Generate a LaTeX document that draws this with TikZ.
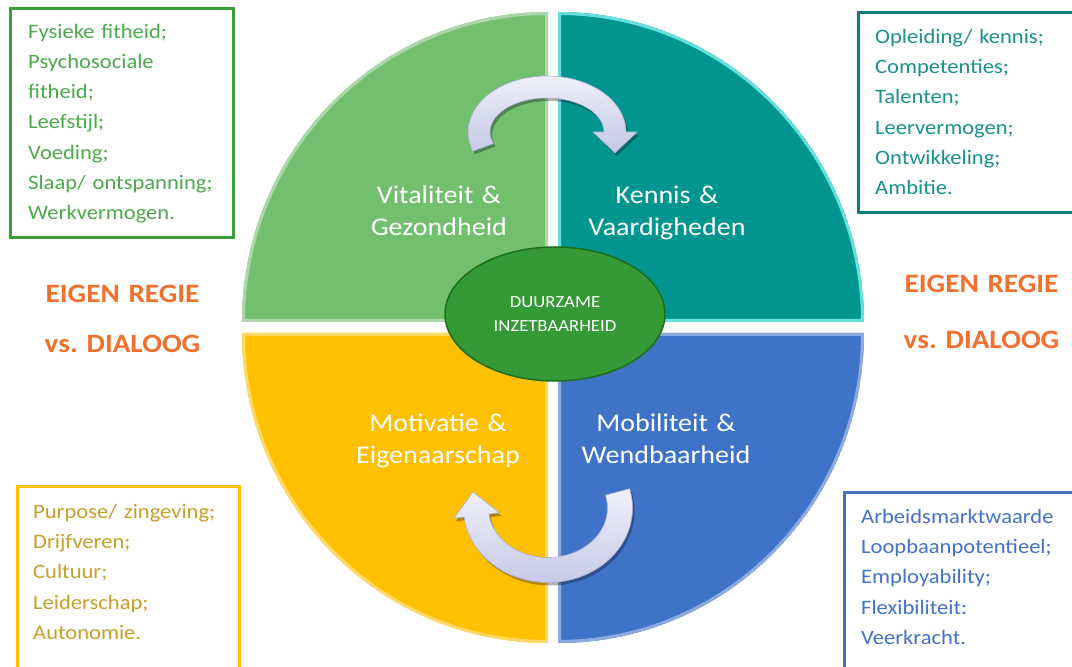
\documentclass[tikz,border=0pt]{standalone}
\usepackage{fontspec}
\setmainfont{Carlito}[FakeStretch=1.1]
\usetikzlibrary{shapes.geometric,calc,shadows}
\definecolor{qgreen}{RGB}{114,191,111}
\definecolor{qteal}{RGB}{0,150,143}
\definecolor{qyellow}{RGB}{255,192,0}
\definecolor{qblue}{RGB}{62,115,200}
\definecolor{egreen}{RGB}{53,154,53}
\definecolor{eborder}{RGB}{28,110,28}
\definecolor{gbord}{RGB}{58,158,58}
\definecolor{gtext}{RGB}{75,170,75}
\definecolor{tbord}{RGB}{14,125,120}
\definecolor{ttext}{RGB}{25,145,140}
\definecolor{ybord}{RGB}{255,192,0}
\definecolor{ytext}{RGB}{200,160,40}
\definecolor{bbord}{RGB}{68,114,196}
\definecolor{btext}{RGB}{68,114,196}
\definecolor{orng}{RGB}{242,112,45}
\definecolor{arrhi}{RGB}{240,241,252}
\definecolor{arrlo}{RGB}{196,200,228}
\definecolor{arredge}{RGB}{170,175,210}
\begin{document}
\begin{tikzpicture}[x=1pt,y=1pt,
  infobox/.style={line width=3pt},
  infotext/.style={anchor=base west,inner sep=0pt,text width=260pt,align=left,font=\fontsize{20.5}{30.2}\selectfont},
  qlabel/.style={anchor=base,inner sep=0pt,text width=220pt,align=center,text=white,font=\fontsize{25.5}{32}\selectfont},
  regie/.style={anchor=base,inner sep=0pt,text width=200pt,align=center,text=orng,font=\bfseries\fontsize{26.5}{50}\selectfont},
  cyclearrow/.style={top color=arrhi,bottom color=arrlo,draw=arredge,line width=0.6pt,
    drop shadow={shadow xshift=2pt,shadow yshift=-3pt,opacity=0.3,fill=black}}
]
\clip (0,0) rectangle (1072,667);
\fill[white] (0,0) rectangle (1072,667);

% quadrants
\def\pgreen{(548,345) -- (242,345) arc[start angle=180,end angle=90,x radius=306,y radius=310] -- cycle}
\def\pteal{(558,345) -- (558,655) arc[start angle=90,end angle=0,x radius=306,y radius=310] -- cycle}
\def\pyellow{(548,334) -- (242,334) arc[start angle=180,end angle=270,x radius=306,y radius=310] -- cycle}
\def\pblue{(558,334) -- (864,334) arc[start angle=0,end angle=-90,x radius=306,y radius=310] -- cycle}
\begin{scope}\clip \pgreen; \fill[qgreen] \pgreen; \draw[line width=6pt,qgreen!60!white] \pgreen;\end{scope}
\begin{scope}\clip \pteal; \fill[qteal] \pteal; \draw[line width=6pt,qteal!50!cyan!60!white] \pteal;\end{scope}
\begin{scope}\clip \pyellow; \fill[qyellow] \pyellow; \draw[line width=6pt,qyellow!60!white] \pyellow;\end{scope}
\begin{scope}\clip \pblue; \fill[qblue] \pblue; \draw[line width=6pt,qblue!60!white] \pblue;\end{scope}

% quadrant labels
\node[qlabel] (vit) at (439,463) {Vitaliteit \&\\Gezondheid};
\node[qlabel] (ken) at (667,463) {Kennis \&\\Vaardigheden};
\node[qlabel] (mot) at (438,235) {Motivatie \&\\Eigenaarschap};
\node[qlabel] (mob) at (666,235) {Mobiliteit \&\\Wendbaarheid};

% centre ellipse
\node[ellipse,draw=eborder,line width=1.5pt,fill=egreen,minimum width=220pt,minimum height=134pt,inner sep=0pt,
  text=white,align=center,font=\fontsize{17}{24}\selectfont] (di) at (555,353) {DUURZAME\\INZETBAARHEID};

% cycle arrows
\coordinate (T) at (547,535);
\coordinate (B) at (548,159);
\coordinate (ttip) at (615,514);
\coordinate (btip) at (473,175);
\path[cyclearrow] ($(T)+(200:79 and 56)$) arc[start angle=200,end angle=0,x radius=79,y radius=56]
  -- ($(T)+(0:90 and 67)$) -- (ttip) -- ($(T)+(0:46 and 23)$) -- ($(T)+(0:57 and 34)$)
  arc[start angle=0,end angle=200,x radius=57,y radius=34] -- cycle;
\path[cyclearrow] ($(B)+(15:84.5 and 74.5)$) arc[start angle=15,end angle=-173,x radius=84.5,y radius=74.5]
  -- ($(B)+(187:95 and 85)$) -- (btip) -- ($(B)+(187:49 and 39)$) -- ($(B)+(187:59.5 and 49.5)$)
  arc[start angle=-173,end angle=15,x radius=59.5,y radius=49.5] -- cycle;

% info boxes
\draw[infobox,gbord] (10,658) rectangle (233,429);
\node[infotext,text=gtext] (gt) at (28,628.7) {Fysieke fitheid;\\Psychosociale\\fitheid;\\Leefstijl;\\Voeding;\\Slaap/ ontspanning;\\Werkvermogen.};
\draw[infobox,tbord] (858,654) rectangle (1085,454);
\node[infotext,text=ttext] (tt) at (875,623.5) {Opleiding/ kennis;\\Competenties;\\Talenten;\\Leervermogen;\\Ontwikkeling;\\Ambitie.};
\draw[infobox,ybord] (17,180) rectangle (239,-10);
\node[infotext,text=ytext] (yt) at (33,148.5) {Purpose/ zingeving;\\Drijfveren;\\Cultuur;\\Leiderschap;\\Autonomie.};
\draw[infobox,bbord] (844,174) rectangle (1085,-10);
\node[infotext,text=btext] (bt) at (861,143.5) {Arbeidsmarktwaarde\\Loopbaanpotentieel;\\Employability;\\Flexibiliteit:\\Veerkracht.};

% eigen regie
\node[regie] (rl) at (122.5,364) {EIGEN REGIE\\vs.\ DIALOOG};
\node[regie,font=\bfseries\fontsize{26.5}{56}\selectfont] (rr) at (981.5,374) {EIGEN REGIE\\vs.\ DIALOOG};
\end{tikzpicture}
\end{document}
